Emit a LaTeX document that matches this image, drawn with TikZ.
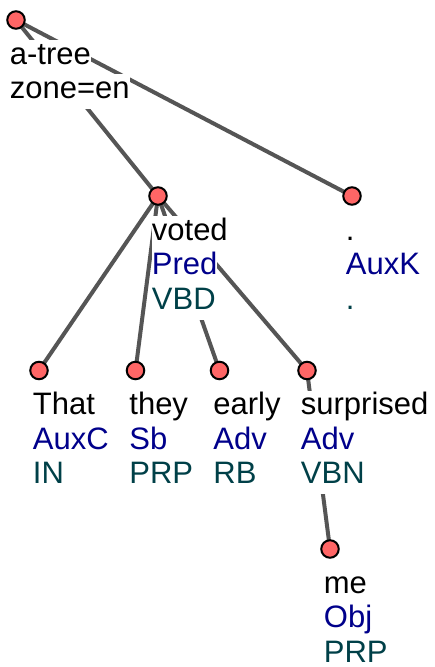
\documentclass[tikz,border=0pt]{standalone}
\usepackage{fontspec}
\setmainfont{Liberation Sans}
\usetikzlibrary{positioning, backgrounds}
\definecolor{nodefill}{HTML}{FF6666}
\definecolor{edgeclr}{HTML}{555555}
\definecolor{afunclr}{HTML}{00008B}
\definecolor{tagclr}{HTML}{004048}
\tikzset{
  tnode/.style={
    circle, draw=black, line width=1pt, fill=nodefill,
    minimum size=8.75pt, inner sep=0pt
  },
  lbl/.style={
    fill=white, inner xsep=0pt, inner ysep=0.4pt, anchor=north west,
    font=\fontsize{15.5}{16.75}\selectfont,
    text height=11.75pt, text depth=5pt
  },
  wordlbl/.style={lbl, text=black, below right=9.85pt and -3.25pt of #1.center},
  nextlbl/.style={lbl, yshift=0.8pt},
  afunlbl/.style={nextlbl, text=afunclr},
  taglbl/.style={nextlbl, text=tagclr},
  edge/.style={line width=2pt, edgeclr},
}

\begin{document}
\begin{tikzpicture}[x=0.5pt, y=-0.5pt]
\useasboundingbox (0,0) rectangle (434,667);

% --- Nodes ---
\node[tnode] (root) at (16,20) {};
\node[tnode] (voted) at (158,196) {};
\node[tnode] (period) at (352,196) {};
\node[tnode] (that) at (39,370.5) {};
\node[tnode] (they) at (135.5,370.5) {};
\node[tnode] (early) at (219.5,370.5) {};
\node[tnode] (surprised) at (307,370.5) {};
\node[tnode] (me) at (330,549) {};

% --- Labels ---
\node[wordlbl=root] (rootw) {a-tree};
\node[nextlbl] (roota) at (rootw.south west) {zone=en};

\node[wordlbl=voted] (votedw) {voted};
\node[afunlbl] (voteda) at (votedw.south west) {Pred};
\node[taglbl] (votedt) at (voteda.south west) {VBD};

\node[wordlbl=period] (periodw) {.};
\node[afunlbl] (perioda) at (periodw.south west) {AuxK};
\node[taglbl] (periodt) at (perioda.south west) {.};

\node[wordlbl=that] (thatw) {That};
\node[afunlbl] (thata) at (thatw.south west) {AuxC};
\node[taglbl] (thatt) at (thata.south west) {IN};

\node[wordlbl=they] (theyw) {they};
\node[afunlbl] (theya) at (theyw.south west) {Sb};
\node[taglbl] (theyt) at (theya.south west) {PRP};

\node[wordlbl=early] (earlyw) {early};
\node[afunlbl] (earlya) at (earlyw.south west) {Adv};
\node[taglbl] (earlyt) at (earlya.south west) {RB};

\node[wordlbl=surprised] (surprisedw) {surprised};
\node[afunlbl] (surpriseda) at (surprisedw.south west) {Adv};
\node[taglbl] (surprisedt) at (surpriseda.south west) {VBN};

\node[wordlbl=me] (mew) {me};
\node[afunlbl] (mea) at (mew.south west) {Obj};
\node[taglbl] (met) at (mea.south west) {PRP};

% --- Edges ---
\begin{scope}[on background layer]
\draw[edge] (root.center) -- (voted.center);
\draw[edge] (root.center) -- (period.center);
\draw[edge] (voted.center) -- (that.center);
\draw[edge] (voted.center) -- (they.center);
\draw[edge] (voted.center) -- (early.center);
\draw[edge] (voted.center) -- (surprised.center);
\draw[edge] (surprised.center) -- (me.center);
\end{scope}

\end{tikzpicture}
\end{document}
